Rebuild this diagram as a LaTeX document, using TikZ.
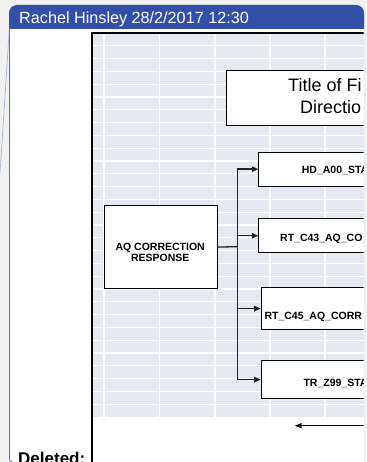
\documentclass[tikz,border=0pt]{standalone}
\usepackage{fontspec}
\setmainfont{Liberation Sans}
\usetikzlibrary{arrows.meta}
\definecolor{bg}{HTML}{F0F0F0}
\definecolor{hdr}{HTML}{3350A8}
\definecolor{edgeblue}{HTML}{5B78C8}
\definecolor{leader}{HTML}{A8B6DD}
\definecolor{gridfill}{HTML}{E4E9F2}
\definecolor{connc}{HTML}{222222}
\begin{document}
\begin{tikzpicture}[x=1pt,y=-1pt,
  box/.style={draw=black, line width=0.9pt, fill=white, inner sep=0pt, anchor=north west},
  link/.style={draw=connc, line width=1.3pt},
  arrowlink/.style={draw=connc, line width=1.3pt, -{Triangle[length=6.5pt,width=5.5pt]}},
  lab/.style={font=\fontsize{10.5}{12}\selectfont\bfseries, anchor=base west, inner sep=0pt},
  labc/.style={font=\fontsize{10.5}{12}\selectfont\bfseries, anchor=base, inner sep=0pt},
  titlef/.style={font=\fontsize{18}{21}\selectfont, anchor=base west, inner sep=0pt},
  gridline/.style={white, line width=1.3pt}]
\useasboundingbox (0,0) rectangle (366,462);
\fill[bg] (0,0) rectangle (366,462);
% balloon body
\fill[white] (9.5,29) rectangle (364,470);
\fill[hdr] (9,29) -- (9,13) arc[start angle=180,end angle=270,radius=8] -- (356,5) arc[start angle=270,end angle=360,radius=8] -- (364,29) -- cycle;
\node[font=\fontsize{16.2}{19}\selectfont, text=white, anchor=base west, inner sep=0pt] (hdrtext) at (19,23.3) {Rachel Hinsley 28/2/2017 12:30};
% leader line and balloon edge
\draw[leader, line width=0.7pt] (9.3,30) -- (0,173);
\draw[edgeblue, line width=0.8pt] (9.5,29) -- (9.5,456) .. controls (9.5,461) .. (14,463);
% Deleted label
\node[font=\fontsize{17}{20}\selectfont\bfseries, anchor=base west, inner sep=0pt] (del) at (18,464) {Deleted:};
% diagram
\begin{scope}
\clip (9.5,29) rectangle (363.5,470);
\fill[gridfill] (92,33) rectangle (370,417);
\foreach \x in {104,159.5,215,270,325} \draw[gridline] (\x,33) -- (\x,417);
\foreach \k in {1,...,29} \draw[gridline] (92,{33+12.8*\k}) -- (370,{33+12.8*\k});
\draw[black, line width=2.4pt] (92,470) -- (92,33) -- (370,33);
% boxes
\node[box, minimum width=180pt, minimum height=55pt] (title) at (225.7,70) {};
\node[box, minimum width=113pt, minimum height=83.3pt] (aq) at (103.7,205) {};
\node[box, minimum width=200pt, minimum height=34pt] (hd) at (258.3,151.7) {};
\node[box, minimum width=200pt, minimum height=34pt] (rt43) at (258.3,218.3) {};
\node[box, minimum width=200pt, minimum height=41.7pt] (rt45) at (260.7,287.3) {};
\node[box, minimum width=200pt, minimum height=38.3pt] (tr) at (260.7,360) {};
% texts
\node[titlef] (t1) at (288,91.7) {Title of Fi};
\node[titlef] (t2) at (300,113.3) {Directio};
\node[labc] (aq1) at (160.2,250.7) {AQ CORRECTION};
\node[labc] (aq2) at (160.2,261.7) {RESPONSE};
\node[lab] (hdl) at (301.7,174) {HD\_A00\_STA};
\node[lab] (rt43l) at (280,241) {RT\_C43\_AQ\_CO};
\node[lab] (rt45l) at (264.3,319) {RT\_C45\_AQ\_CORR};
\node[lab] (trl) at (303.3,386) {TR\_Z99\_STA};
% connectors
\coordinate (split) at (237.3,246.65);
\draw[link] (aq.east) -- (split);
\draw[arrowlink] (split) |- (hd.west);
\draw[arrowlink] (split) |- (rt43.west);
\draw[arrowlink] (split) |- (rt45.west);
\draw[arrowlink] (split) |- (tr.west);
\coordinate (bstart) at (380,425.7);
\coordinate (btip) at (295,425.7);
\draw[black, line width=1.1pt, -{Triangle[length=6.5pt,width=5pt]}] (bstart) -- (btip);
\end{scope}
\end{tikzpicture}
\end{document}
